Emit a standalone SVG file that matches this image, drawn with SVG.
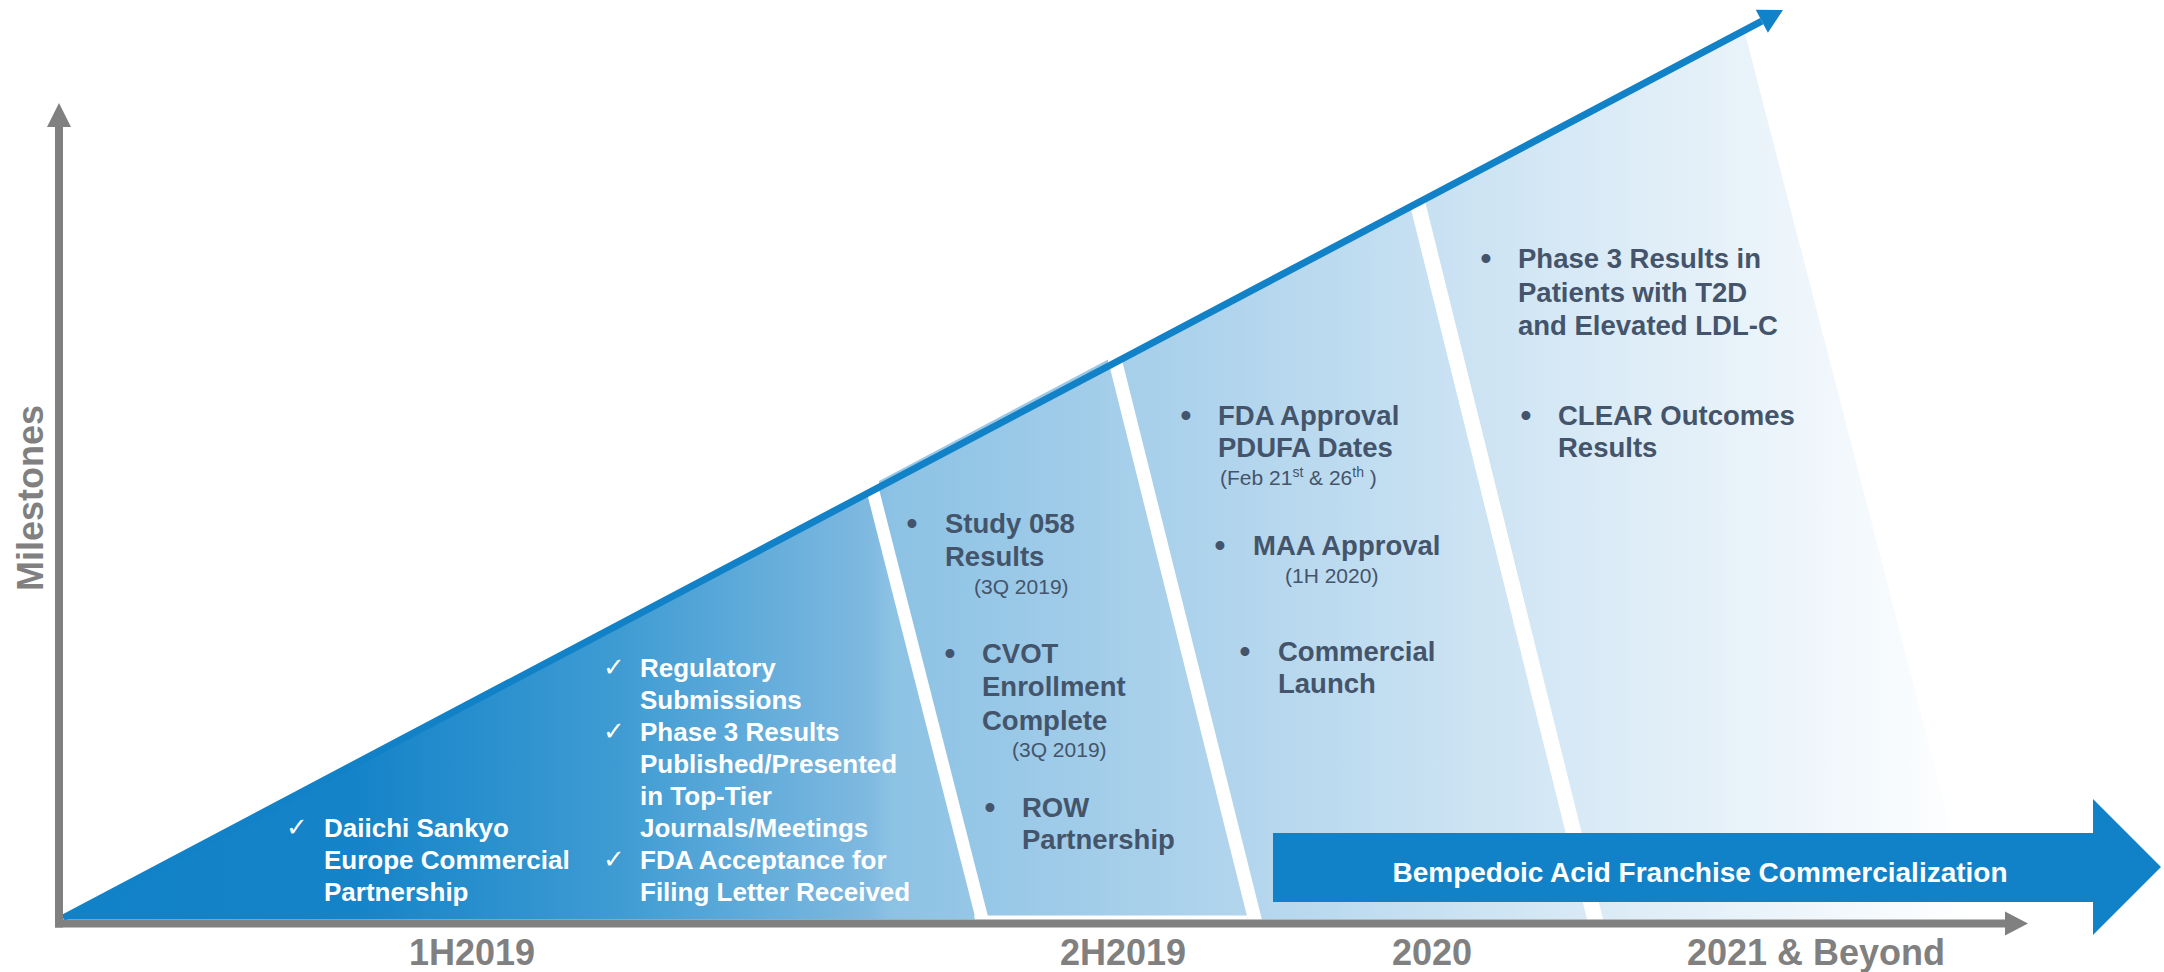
<svg xmlns="http://www.w3.org/2000/svg" width="2164" height="972" viewBox="0 0 2164 972">
<defs>
<linearGradient id="fillGrad" gradientUnits="userSpaceOnUse" x1="63" y1="0" x2="1974" y2="0">
<stop offset="0" stop-color="#1282c8"/>
<stop offset="0.15" stop-color="#1483c8"/>
<stop offset="0.292" stop-color="#3f9cd3"/>
<stop offset="0.422" stop-color="#7fb9e0"/>
<stop offset="0.433" stop-color="#8cc2e4"/>
<stop offset="0.616" stop-color="#b2d5ed"/>
<stop offset="0.799" stop-color="#d9eaf6"/>
<stop offset="1" stop-color="#ffffff"/>
</linearGradient>
</defs>
<style>
.w{font-family:"Liberation Sans",Arial,sans-serif;font-weight:bold;font-size:26px;fill:#ffffff}
.chk{font-family:"DejaVu Sans",sans-serif;font-size:26px;fill:#ffffff}
.d{font-family:"Liberation Sans",Arial,sans-serif;font-weight:bold;font-size:27.5px;fill:#44546a}
.b{font-family:"Liberation Sans",Arial,sans-serif;font-weight:bold;font-size:31px;fill:#44546a;text-anchor:middle}
.p{font-family:"Liberation Sans",Arial,sans-serif;font-size:21px;fill:#44546a}
.ax{font-family:"Liberation Sans",Arial,sans-serif;font-weight:bold;font-size:36px;fill:#808080;text-anchor:middle}
.bt{font-family:"Liberation Sans",Arial,sans-serif;font-weight:bold;font-size:28px;fill:#ffffff;text-anchor:middle}
.gap{fill:#ffffff}
.gray{fill:#808080}
.blue{fill:#1282c8}
</style>
<rect width="2164" height="972" fill="#ffffff"/>
<g id="background-fill">
<polygon points="63,919.5 1744.3,30.5 1974.4,919.5" fill="url(#fillGrad)"/>
<polygon class="gap" points="861.1,470 874.1,470 988.9,920 975.9,920"/>
<polygon class="gap" points="1103,340 1117,340 1262,920 1248,920"/>
<polygon class="gap" points="1403.8,180 1419.8,180 1603.3,920 1587.3,920"/>
<polygon class="gap" points="974,915.5 1247,915.5 1248,920 975,920"/>
<polygon points="879,481 1108,359.5 1108,366.5 879,488" fill="#9cc8e6"/>
</g>
<g id="connectors">
<line x1="63" y1="918" x2="1761.8" y2="21.2" stroke="#1282c8" stroke-width="7"/>
<polygon class="blue" points="1783,10 1767.9,32.7 1755.7,9.7"/>
<line x1="59" y1="126" x2="59" y2="927.5" stroke="#808080" stroke-width="8"/>
<polygon class="gray" points="59,103 47,127 71,127"/>
<line x1="55" y1="923.5" x2="2006" y2="923.5" stroke="#808080" stroke-width="8"/>
<polygon class="gray" points="2028,923.5 2005,911.5 2005,935.5"/>
</g>
<g id="axis-labels">
<text class="ax" transform="translate(43,498) rotate(-90)" font-size="37">Milestones</text>
<text class="ax" x="472" y="965">1H2019</text>
<text class="ax" x="1123" y="965">2H2019</text>
<text class="ax" x="1432" y="965">2020</text>
<text class="ax" x="1816" y="965">2021 &amp; Beyond</text>
</g>
<g id="commercialization-arrow">
<polygon class="blue" points="1273,833 2093,833 2093,799 2161,867 2093,935 2093,902 1273,902"/>
<text class="bt" x="1700" y="882">Bempedoic Acid Franchise Commercialization</text>
</g>
<g id="node-1h2019-a">
<text class="chk" x="286" y="836">✓</text>
<text class="w" x="324" y="837">Daiichi Sankyo</text>
<text class="w" x="324" y="869">Europe Commercial</text>
<text class="w" x="324" y="901">Partnership</text>
</g>
<g id="node-1h2019-b">
<text class="chk" x="603" y="676">✓</text>
<text class="w" x="640" y="677">Regulatory</text>
<text class="w" x="640" y="709">Submissions</text>
<text class="chk" x="603" y="740">✓</text>
<text class="w" x="640" y="741">Phase 3 Results</text>
<text class="w" x="640" y="773">Published/Presented</text>
<text class="w" x="640" y="805">in Top-Tier</text>
<text class="w" x="640" y="837">Journals/Meetings</text>
<text class="chk" x="603" y="868">✓</text>
<text class="w" x="640" y="869">FDA Acceptance for</text>
<text class="w" x="640" y="901">Filing Letter Received</text>
</g>
<g id="node-2h2019">
<text class="b" x="912" y="534">•</text>
<text class="d" x="945" y="533">Study 058</text>
<text class="d" x="945" y="566">Results</text>
<text class="p" x="974" y="594">(3Q 2019)</text>
<text class="b" x="950" y="664">•</text>
<text class="d" x="982" y="663">CVOT</text>
<text class="d" x="982" y="696">Enrollment</text>
<text class="d" x="982" y="730">Complete</text>
<text class="p" x="1012" y="757">(3Q 2019)</text>
<text class="b" x="990" y="818">•</text>
<text class="d" x="1022" y="817">ROW</text>
<text class="d" x="1022" y="849">Partnership</text>
</g>
<g id="node-2020">
<text class="b" x="1186" y="426">•</text>
<text class="d" x="1218" y="425">FDA Approval</text>
<text class="d" x="1218" y="457">PDUFA Dates</text>
<text class="p" x="1220" y="485">(Feb 21<tspan font-size="14" dy="-8">st</tspan><tspan dy="8"> &amp; 26</tspan><tspan font-size="14" dy="-8">th</tspan><tspan dy="8"> )</tspan></text>
<text class="b" x="1220" y="556">•</text>
<text class="d" x="1253" y="555">MAA Approval</text>
<text class="p" x="1285" y="583">(1H 2020)</text>
<text class="b" x="1245" y="662">•</text>
<text class="d" x="1278" y="661">Commercial</text>
<text class="d" x="1278" y="693">Launch</text>
</g>
<g id="node-2021">
<text class="b" x="1486" y="269">•</text>
<text class="d" x="1518" y="268">Phase 3 Results in</text>
<text class="d" x="1518" y="302">Patients with T2D</text>
<text class="d" x="1518" y="335">and Elevated LDL-C</text>
<text class="b" x="1526" y="426">•</text>
<text class="d" x="1558" y="425">CLEAR Outcomes</text>
<text class="d" x="1558" y="457">Results</text>
</g>
</svg>
